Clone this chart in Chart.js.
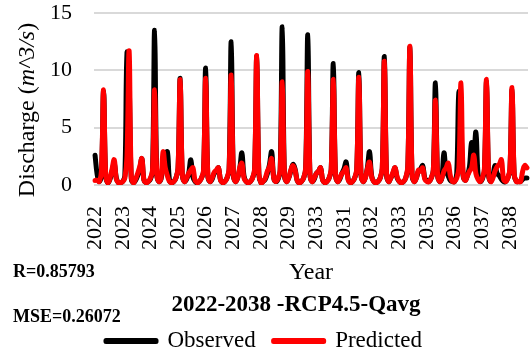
<!DOCTYPE html>
<html lang="en">

<head>
    <meta charset="UTF-8">
    <title>Discharge 2022-2038</title>
    <script src="https://cdn.jsdelivr.net/npm/chart.js@4.4.9/dist/chart.umd.min.js"></script>
    <style>
        body { margin: 0; background: #ffffff; }
        .grafico { width: 530px; height: 358px; }
    </style>
</head>

<body>
    <div class="grafico">
        <canvas id="myChartCanvas" width="530" height="358"></canvas>
    </div>
</body>

</html>
<script>
    // year labels as they appear under the axis (one every 13 months)
    const yearTicks = ['2022', '2023', '2024', '2025', '2026', '2027', '2028', '2029',
        '2033', '2031', '2032', '2033', '2035', '2036', '2037', '2038'];
    const labelStep = 13;

    // monthly discharge, one row per year (2022 ... 2038)
    const observed = [
        2.6, 0.9, 0.3, 1.0, 8.2, 0.8, 0.2, 0.5, 1.2, 1.9, 0.6, 0.2,
        0.2, 0.3, 0.8, 11.5, 9.0, 0.6, 0.2, 0.4, 0.8, 1.4, 2.3, 0.4,
        0.2, 0.3, 0.5, 1.2, 13.5, 0.9, 0.3, 0.5, 1.8, 2.2, 2.9, 0.4,
        0.2, 0.3, 0.6, 1.4, 9.3, 0.9, 0.3, 0.5, 1.0, 2.2, 0.7, 0.3,
        0.2, 0.3, 0.6, 1.2, 10.2, 0.8, 0.3, 0.5, 1.0, 1.2, 1.5, 0.4,
        0.2, 0.3, 0.6, 1.3, 12.5, 0.9, 0.3, 0.6, 1.4, 2.8, 0.8, 0.3,
        0.2, 0.3, 0.6, 1.3, 11.2, 0.9, 0.2, 0.3, 0.5, 1.0, 1.8, 2.9,
        0.6, 0.3, 0.5, 1.2, 13.8, 0.9, 0.3, 0.6, 1.2, 1.8, 1.4, 0.4,
        0.2, 0.3, 0.6, 1.4, 13.1, 0.9, 0.3, 0.5, 1.0, 1.2, 1.5, 0.4,
        0.2, 0.3, 0.6, 1.3, 10.6, 0.9, 0.3, 0.5, 1.0, 1.4, 2.0, 0.5,
        0.2, 0.3, 0.6, 1.3, 9.8, 0.9, 0.3, 0.6, 1.5, 2.9, 0.8, 0.3,
        0.2, 0.3, 0.6, 1.4, 11.2, 0.9, 0.3, 0.6, 1.0, 1.5, 0.6, 0.3,
        0.2, 0.3, 0.6, 1.5, 12.0, 0.9, 0.3, 0.6, 1.2, 1.4, 1.7, 0.6,
        0.4, 0.3, 0.6, 1.3, 8.9, 0.9, 0.3, 0.6, 2.8, 1.2, 0.8, 0.4,
        0.3, 0.3, 1.0, 8.1, 5.0, 0.8, 0.4, 0.8, 1.6, 3.7, 2.8, 4.6,
        1.0, 0.3, 0.5, 1.2, 9.0, 0.8, 0.3, 0.8, 1.7, 1.0, 0.8, 0.5,
        0.3, 0.3, 0.6, 1.3, 8.3, 0.9, 0.3, 0.3, 0.3, 0.5, 0.6, 0.6
    ];

    const predicted = [
        0.4, 0.4, 0.3, 1.2, 8.3, 0.9, 0.2, 0.6, 1.4, 2.2, 0.5, 0.2,
        0.2, 0.3, 0.6, 2.5, 11.7, 0.8, 0.2, 0.5, 1.0, 1.6, 2.3, 0.4,
        0.2, 0.3, 0.6, 1.3, 8.3, 1.0, 0.3, 0.6, 2.9, 1.5, 0.8, 0.3,
        0.2, 0.3, 0.6, 1.5, 9.2, 1.0, 0.3, 0.6, 1.0, 1.3, 1.5, 0.4,
        0.2, 0.3, 0.6, 1.3, 9.3, 0.9, 0.3, 0.6, 1.1, 1.3, 1.5, 0.4,
        0.2, 0.3, 0.6, 1.4, 9.6, 1.0, 0.3, 0.6, 1.5, 1.9, 0.6, 0.3,
        0.2, 0.3, 0.6, 1.4, 11.3, 1.0, 0.2, 0.3, 0.6, 1.2, 1.6, 2.3,
        0.6, 0.3, 0.6, 1.3, 9.0, 1.0, 0.3, 0.6, 1.3, 1.7, 1.3, 0.4,
        0.2, 0.3, 0.6, 1.5, 9.9, 1.0, 0.3, 0.6, 1.0, 1.2, 1.5, 0.4,
        0.2, 0.3, 0.6, 1.4, 9.2, 1.0, 0.3, 0.6, 1.0, 1.2, 1.5, 0.4,
        0.2, 0.3, 0.6, 1.4, 9.4, 1.0, 0.3, 0.6, 1.4, 2.0, 0.7, 0.3,
        0.2, 0.3, 0.6, 1.5, 10.8, 1.0, 0.3, 0.6, 1.1, 1.5, 0.7, 0.3,
        0.2, 0.3, 0.6, 1.6, 12.1, 1.0, 0.3, 0.6, 1.3, 1.2, 1.5, 0.5,
        0.3, 0.3, 0.6, 1.3, 7.4, 0.9, 0.3, 0.6, 1.2, 1.5, 1.9, 0.8,
        0.3, 0.3, 0.6, 1.5, 8.9, 1.0, 0.4, 0.8, 1.2, 1.5, 2.6, 1.0,
        0.5, 0.3, 0.6, 1.4, 9.2, 1.0, 0.3, 0.6, 1.2, 1.6, 1.8, 2.2,
        0.5, 0.3, 0.6, 1.4, 8.5, 1.0, 0.3, 0.3, 0.3, 1.2, 1.7, 1.5
    ];

    const statR = 'R=0.85793';
    const statMSE = 'MSE=0.26072';
    const chartTitle = '2022-2038 -RCP4.5-Qavg';

    const serif = '"Liberation Serif", "Times New Roman", serif';

    // one category per month, only every 13th one gets a year label
    let meses = [];
    for (let i = 0; i < observed.length; i++) {
        meses.push(i % labelStep === 0 ? (yearTicks[i / labelStep] || '') : '');
    }

    // texts drawn around the plot (y title with italic unit, stats, title)
    const textos = {
        id: 'textos',
        afterDraw(chart) {
            const ctx = chart.ctx;
            ctx.save();
            ctx.fillStyle = '#000000';
            ctx.textBaseline = 'middle';

            // y axis title: Discharge (m^3/s)
            const partes = [['Discharge (', 'normal'], ['m^3/s', 'italic'], [')', 'normal']];
            let total = 0;
            partes.forEach(function (p) {
                ctx.font = p[1] + ' 24px ' + serif;
                total += ctx.measureText(p[0]).width;
            });
            ctx.save();
            ctx.translate(28, 110);
            ctx.rotate(-Math.PI / 2);
            ctx.textAlign = 'left';
            let x = -total / 2;
            partes.forEach(function (p) {
                ctx.font = p[1] + ' 24px ' + serif;
                ctx.fillText(p[0], x, 0);
                x += ctx.measureText(p[0]).width;
            });
            ctx.restore();

            ctx.font = 'bold 18px ' + serif;
            ctx.textAlign = 'left';
            ctx.fillText(statR, 13, 272.5);
            ctx.fillText(statMSE, 13, 317);

            ctx.font = 'bold 23px ' + serif;
            ctx.textAlign = 'center';
            ctx.fillText(chartTitle, 296, 305);
            ctx.restore();
        }
    };

    const config = {
        type: 'line',
        data: {
            labels: meses,
            datasets: [{
                label: 'Observed',
                data: observed,
                borderColor: '#000000',
                backgroundColor: '#000000',
                borderWidth: 5,
                borderCapStyle: 'round',
                borderJoinStyle: 'round',
                pointRadius: 0,
                tension: 0.4,
                order: 1
            }, {
                label: 'Predicted',
                data: predicted,
                borderColor: '#ff0000',
                backgroundColor: '#ff0000',
                borderWidth: 5,
                borderCapStyle: 'round',
                borderJoinStyle: 'round',
                pointRadius: 0,
                tension: 0.4,
                order: 0
            }]
        },
        options: {
            responsive: false,
            animation: false,
            devicePixelRatio: 1,
            layout: {
                padding: { left: 0, right: 2, top: 13, bottom: -4.5 }
            },
            scales: {
                x: {
                    offset: true,
                    grid: { display: false },
                    border: { display: false },
                    afterFit: function (scale) {
                        scale.height = 126.5;
                        scale.paddingLeft = 0;
                        scale.paddingRight = 0;
                    },
                    ticks: {
                        autoSkip: false,
                        minRotation: 90,
                        maxRotation: 90,
                        padding: 13,
                        color: '#000000',
                        font: { family: serif, size: 22 }
                    },
                    title: {
                        display: true,
                        text: 'Year',
                        color: '#000000',
                        font: { family: serif, size: 24, lineHeight: 1 },
                        padding: { top: 0, bottom: 26.5 }
                    }
                },
                y: {
                    min: 0,
                    max: 15,
                    afterFit: function (scale) {
                        scale.width = 94;
                        scale.paddingTop = 0;
                        scale.paddingBottom = 0;
                    },
                    grid: { color: '#d9d9d9', lineWidth: 2, drawTicks: false },
                    border: { display: false },
                    ticks: {
                        stepSize: 5,
                        padding: 22,
                        color: '#000000',
                        font: { family: serif, size: 22 }
                    }
                }
            },
            plugins: {
                legend: {
                    position: 'bottom',
                    labels: {
                        boxWidth: 50,
                        boxHeight: 1,
                        padding: 18,
                        color: '#000000',
                        font: { family: serif, size: 23 },
                        sort: function (a, b) { return a.datasetIndex - b.datasetIndex; }
                    }
                },
                tooltip: { enabled: false }
            }
        },
        plugins: [textos]
    };

    let myChart = new Chart(document.getElementById('myChartCanvas'), config);
</script>
